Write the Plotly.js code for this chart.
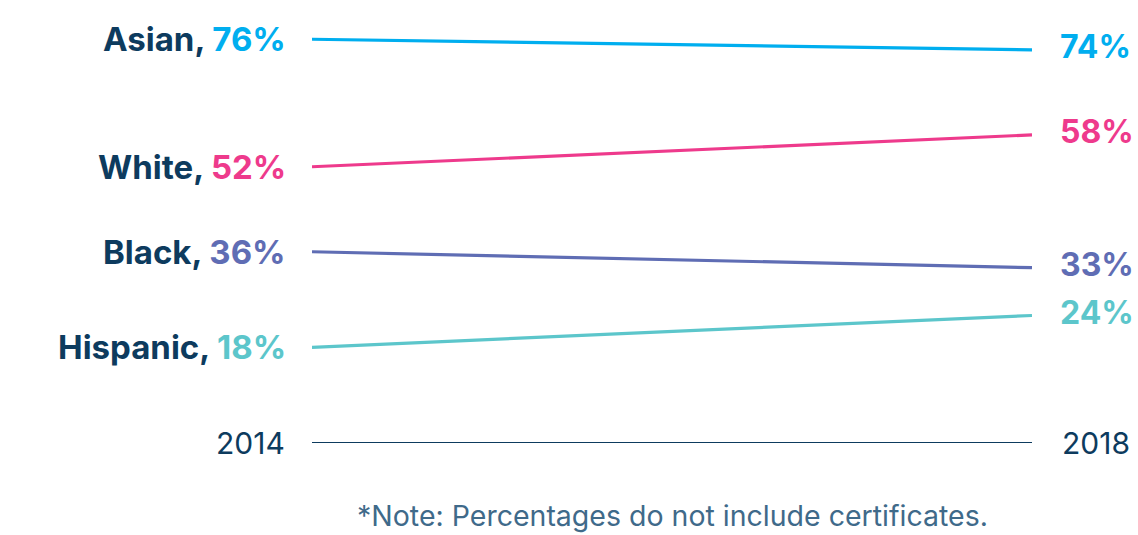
<!DOCTYPE html>
<html>
<head>
<meta charset="utf-8">
<script src="https://cdn.plot.ly/plotly-3.0.1.min.js"></script>
<style>html,body{margin:0;padding:0;background:#fff;}#chart{width:1138px;height:535px;}</style>
</head>
<body>
<div id="chart"></div>
<script>
const years = [2014, 2018];
const groups = ["Asian", "White", "Black", "Hispanic"];
const values2014 = [76, 52, 36, 18];
const values2018 = [74, 58, 33, 24];
const colors = ["#00aeef", "#ee3a8c", "#5f6db4", "#5cc6cb"];
const note = "*Note: Percentages do not include certificates.";

const navy = "#0d3b5e";
const fontFam = "Inter, 'Open Sans', sans-serif";

const traces = groups.map((g, i) => ({
  type: "scatter",
  mode: "lines",
  x: years,
  y: [values2014[i], values2018[i]],
  line: {color: colors[i], width: 3.2},
  hoverinfo: "skip",
  cliponaxis: false,
  showlegend: false
}));

const annotations = [];
groups.forEach((g, i) => {
  annotations.push({
    x: years[0], y: values2014[i], xref: "x", yref: "y",
    xanchor: "right", yanchor: "middle", xshift: -24, yshift: 0,
    showarrow: false,
    text: "<b>" + g + ", </b><b><span style='color:" + colors[i] + "'>" + values2014[i] + "%</span></b>",
    font: {family: fontFam, size: 33, color: navy}
  });
  annotations.push({
    x: years[1], y: values2018[i], xref: "x", yref: "y",
    xanchor: "left", yanchor: "middle", xshift: 26, yshift: 3,
    showarrow: false,
    text: "<b>" + values2018[i] + "%</b>",
    font: {family: fontFam, size: 32, color: colors[i]}
  });
});
annotations.push({
  x: years[0], y: 0, xref: "x", yref: "y", xanchor: "right", yanchor: "middle",
  xshift: -25, showarrow: false, text: String(years[0]),
  font: {family: fontFam, size: 30, color: navy}
});
annotations.push({
  x: years[1], y: 0, xref: "x", yref: "y", xanchor: "left", yanchor: "middle",
  xshift: 28, showarrow: false, text: String(years[1]),
  font: {family: fontFam, size: 30, color: navy}
});
annotations.push({
  x: 0.5, y: 0, xref: "paper", yref: "paper", xanchor: "center", yanchor: "middle",
  yshift: -72, borderpad: 0, showarrow: false, text: note,
  font: {family: fontFam, size: 28.5, color: "#3f6a8a"}
});

const layout = {
  width: 1138, height: 535,
  margin: {l: 312, r: 106, t: 18, b: 92},
  paper_bgcolor: "#fff", plot_bgcolor: "#fff",
  xaxis: {range: [2014, 2018], visible: false, fixedrange: true},
  yaxis: {range: [0, 80], visible: false, fixedrange: true},
  shapes: [{
    type: "line", xref: "x", yref: "y", x0: years[0], x1: years[1], y0: 0, y1: 0,
    line: {color: navy, width: 2}
  }],
  annotations: annotations
};

Plotly.newPlot("chart", traces, layout, {displayModeBar: false, staticPlot: true});
</script>
</body>
</html>
